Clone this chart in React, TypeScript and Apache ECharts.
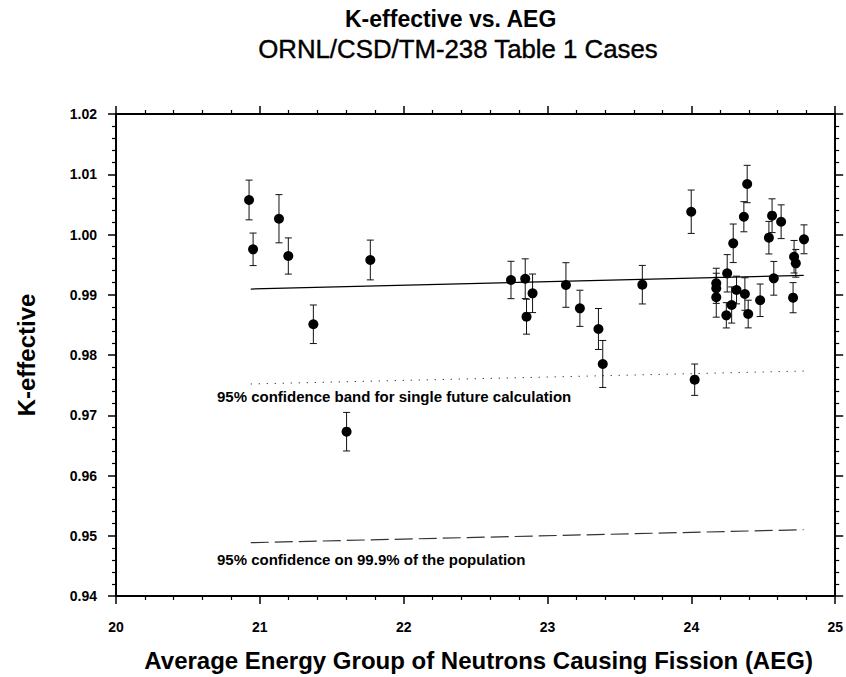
import React, { useEffect, useRef } from "react";
import * as echarts from "echarts";

const aeg = [
  20.925, 20.953, 21.133, 21.198, 21.372, 21.768, 21.603, 22.746, 22.845, 22.896,
  22.854, 23.128, 23.225, 23.354, 23.384, 23.659, 23.999, 24.023, 24.388, 24.365,
  24.561, 24.624, 24.539, 24.291, 24.783, 24.714, 24.726, 24.249, 24.573, 24.173,
  24.173, 24.173, 24.314, 24.372, 24.28, 24.243, 24.395, 24.478, 24.707,
];
const keff = [
  1.00573, 0.99754, 1.00262, 0.99643, 0.9851, 0.99577, 0.96727, 0.99245, 0.99266, 0.99024,
  0.98636, 0.99162, 0.98775, 0.98432, 0.97851, 0.99167, 1.00378, 0.9759, 1.00838, 1.00295,
  1.00312, 1.00212, 0.99947, 0.99854, 0.9992, 0.99631, 0.99522, 0.99356, 0.99273, 0.9919,
  0.99107, 0.98958, 0.99079, 0.99012, 0.9883, 0.98659, 0.9868, 0.98908, 0.98951,
];
const sigma = [
  0.0033, 0.0027, 0.004, 0.003, 0.0032, 0.0033, 0.0032, 0.0031, 0.0033, 0.0032,
  0.0029, 0.0037, 0.003, 0.0034, 0.0039, 0.0032, 0.0036, 0.0026, 0.0031, 0.0025,
  0.0028, 0.0028, 0.0027, 0.0032, 0.0024, 0.0027, 0.0023, 0.0031, 0.0028, 0.0025,
  0.0025, 0.0033, 0.0023, 0.0027, 0.003, 0.0021, 0.0023, 0.0027, 0.0025,
];

const lineX = [20.937, 24.781];
const fitY = [0.99095, 0.99323];
const bandY = [0.97519, 0.97734];
const popY = [0.94885, 0.951];

const xTicks = [20, 21, 22, 23, 24, 25];
const yMin = 0.94;
const yMax = 1.02;

const FONT = "'Liberation Sans', Arial, Helvetica, sans-serif";

export default function App() {
  const ref = useRef<HTMLDivElement>(null);
  useEffect(() => {
    if (!ref.current) return;
    document.body.style.margin = "0";
    document.body.style.overflow = "hidden";
    const chart = echarts.init(ref.current, null, { renderer: "svg" });
    const pts = aeg.map((x, i) => [x, keff[i]]);
    const errs = aeg.map((x, i) => [x, keff[i], sigma[i]]);
    const axisCommon = {
      axisLine: { show: true, onZero: false, lineStyle: { color: "#000", width: 2 } },
      axisTick: { show: true, inside: false, length: 8, lineStyle: { color: "#000", width: 1.5 } },
      minorTick: { show: true, splitNumber: 5, length: 4, lineStyle: { color: "#000", width: 1.2 } },
      splitLine: { show: false },
      minorSplitLine: { show: false },
    };
    chart.setOption({
      animation: false,
      backgroundColor: "#fff",
      textStyle: { fontFamily: FONT },
      grid: { left: 116, right: 10, top: 114, bottom: 81, containLabel: false },
      xAxis: [
        {
          type: "value",
          position: "bottom",
          min: xTicks[0],
          max: xTicks[xTicks.length - 1],
          interval: 1,
          ...axisCommon,
          axisLabel: {
            color: "#000",
            fontWeight: "bold",
            fontSize: 14,
            fontFamily: FONT,
            margin: 24,
          },
          name: "Average Energy Group of Neutrons Causing Fission (AEG)",
          nameLocation: "middle",
          nameGap: 52,
          nameTextStyle: { color: "#000", fontWeight: "bold", fontSize: 24, fontFamily: FONT, padding: [0, 0, 0, 6] },
        },
        {
          type: "value",
          position: "top",
          min: xTicks[0],
          max: xTicks[xTicks.length - 1],
          interval: 1,
          ...axisCommon,
          axisLabel: { show: false },
        },
      ],
      yAxis: [
        {
          type: "value",
          position: "left",
          min: yMin,
          max: yMax,
          interval: 0.01,
          ...axisCommon,
          axisLabel: {
            color: "#000",
            fontWeight: "bold",
            fontSize: 14,
            fontFamily: FONT,
            margin: 19,
            formatter: (v: number) => v.toFixed(2),
          },
          name: "K-effective",
          nameLocation: "middle",
          nameGap: 78,
          nameTextStyle: { color: "#000", fontWeight: "bold", fontSize: 24, fontFamily: FONT },
        },
        {
          type: "value",
          position: "right",
          min: yMin,
          max: yMax,
          interval: 0.01,
          ...axisCommon,
          axisLabel: { show: false },
        },
      ],
      graphic: [
        {
          type: "text",
          left: 345,
          top: 7,
          style: { text: "K-effective vs. AEG", fill: "#000", font: `bold 23px ${FONT}` },
        },
        {
          type: "text",
          left: 258,
          top: 36,
          style: { text: "ORNL/CSD/TM-238 Table 1 Cases", fill: "#000", stroke: "#000", lineWidth: 0.4, font: `25.8px ${FONT}` },
        },
        {
          type: "text",
          left: 217,
          top: 389,
          style: { text: "95% confidence band for single future calculation", fill: "#000", font: `bold 15px ${FONT}` },
        },
        {
          type: "text",
          left: 217,
          top: 552,
          style: { text: "95% confidence on 99.9% of the population", fill: "#000", font: `bold 15px ${FONT}` },
        },
      ],
      series: [
        {
          type: "line",
          data: [[lineX[0], fitY[0]], [lineX[1], fitY[1]]],
          symbol: "none",
          lineStyle: { color: "#000", width: 1.2, type: "solid" },
          silent: true,
        },
        {
          type: "line",
          data: [[lineX[0], bandY[0]], [lineX[1], bandY[1]]],
          symbol: "none",
          lineStyle: { color: "#000", width: 1, type: [1, 7] },
          silent: true,
        },
        {
          type: "line",
          data: [[lineX[0], popY[0]], [lineX[1], popY[1]]],
          symbol: "none",
          lineStyle: { color: "#333", width: 1.2, type: [18, 6] },
          silent: true,
        },
        {
          type: "custom",
          data: errs,
          encode: { x: 0, y: 1 },
          renderItem: (params: any, api: any) => {
            const x = api.value(0);
            const y = api.value(1);
            const e = api.value(2);
            const top = api.coord([x, y + e]);
            const bot = api.coord([x, y - e]);
            const st = { stroke: "#111", lineWidth: 1 };
            const hw = 3.5;
            return {
              type: "group",
              children: [
                { type: "line", shape: { x1: top[0], y1: top[1], x2: bot[0], y2: bot[1] }, style: st },
                { type: "line", shape: { x1: top[0] - hw, y1: top[1], x2: top[0] + hw, y2: top[1] }, style: st },
                { type: "line", shape: { x1: bot[0] - hw, y1: bot[1], x2: bot[0] + hw, y2: bot[1] }, style: st },
              ],
            };
          },
          silent: true,
          z: 3,
        },
        {
          type: "scatter",
          data: pts,
          symbol: "circle",
          symbolSize: 10,
          itemStyle: { color: "#000", opacity: 1 },
          z: 4,
        },
      ],
    });
    return () => chart.dispose();
  }, []);
  return <div ref={ref} style={{ position: "fixed", left: 0, top: 0, width: 846, height: 677 }} />;
}
